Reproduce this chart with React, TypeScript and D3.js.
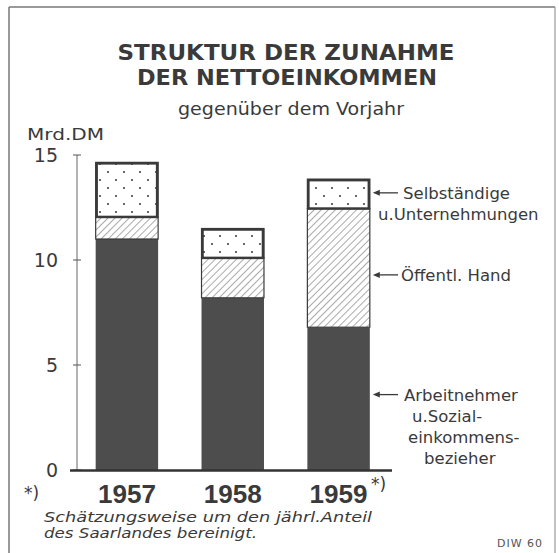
import React from "react";
import * as d3 from "d3";

const years = ["1957", "1958", "1959"];
const arbeitnehmer = [11.0, 8.2, 6.8];
const oeffentlich = [1.05, 1.9, 5.65];
const selbstaendige = [2.6, 1.4, 1.4];
const yTicks = [0, 5, 10, 15];
const titleLines = ["STRUKTUR DER ZUNAHME", "DER NETTOEINKOMMEN"];
const subtitle = "gegenüber dem Vorjahr";
const unitLabel = "Mrd.DM";
const labelSelb = ["Selbständige", "u.Unternehmungen"];
const labelOeff = ["Öffentl. Hand"];
const labelArb = ["Arbeitnehmer", "u.Sozial-", "einkommens-", "bezieher"];
const footnote = ["Schätzungsweise um den jährl.Anteil", "des Saarlandes bereinigt."];

const W = 559;
const H = 553;
const ink = "#3a3a3a";
const font = "'DejaVu Sans', 'Open Sans', sans-serif";

export default function App() {
  const x = d3.scaleBand<string>().domain(years).range([74.5, 391]).paddingInner(0.41).paddingOuter(0.2);
  const y = d3.scaleLinear().domain([0, 15]).range([470, 155]);

  const stackData = years.map((yr, i) => ({ year: yr, a: arbeitnehmer[i], o: oeffentlich[i], s: selbstaendige[i] }));
  const stack = d3.stack<any>().keys(["a", "o", "s"])(stackData);
  const fills: Record<string, string> = { a: "#4d4d4d", o: "url(#hatch)", s: "url(#dots)" };

  const last = stack.map((layer) => layer[2]);
  const mid = (seg: any) => (y(seg[0]) + y(seg[1])) / 2;
  const barRight = (x("1959") || 0) + x.bandwidth();

  return (
    <svg width={W} height={H} style={{ position: "absolute", left: 0, top: 0, background: "#fff" }}>
      <defs>
        <pattern id="hatch" width="5" height="5" patternUnits="userSpaceOnUse" patternTransform="rotate(45)">
          <rect width="5" height="5" fill="#fff" />
          <line x1="0" y1="0" x2="0" y2="5" stroke="#555" strokeWidth="1" />
        </pattern>
        <pattern id="dots" width="16" height="16" patternUnits="userSpaceOnUse">
          <rect width="16" height="16" fill="#fff" />
          <circle cx="4" cy="4" r="1.1" fill="#444" />
          <circle cx="12" cy="12" r="1.1" fill="#444" />
        </pattern>
      </defs>
      {/* frame */}
      <line x1={9} y1={7} x2={555} y2={7} stroke="#777" strokeWidth={1.5} />
      <line x1={9} y1={7} x2={9} y2={H} stroke="#777" strokeWidth={1.5} />
      <line x1={555} y1={7} x2={555} y2={H} stroke="#999" strokeWidth={1.2} />

      {/* title */}
      <g fill={ink} fontFamily={font} fontWeight="bold" textAnchor="middle">
        <text x={286} y={60} fontSize={21} textLength={337} lengthAdjust="spacingAndGlyphs">{titleLines[0]}</text>
        <text x={287} y={85} fontSize={21} textLength={300} lengthAdjust="spacingAndGlyphs">{titleLines[1]}</text>
      </g>
      <text x={291} y={115} fontSize={17} fill={ink} fontFamily={font} textAnchor="middle" textLength={226} lengthAdjust="spacingAndGlyphs">{subtitle}</text>
      <text x={27} y={140} fontSize={16} fill={ink} fontFamily={font} textLength={77} lengthAdjust="spacingAndGlyphs">{unitLabel}</text>

      {/* y axis */}
      <line x1={77} y1={y(15)} x2={77} y2={y(0)} stroke="#666" strokeWidth={1} />
      {yTicks.map((t) => (
        <g key={t}>
          <line x1={73} x2={81} y1={y(t)} y2={y(t)} stroke="#555" strokeWidth={1} />
          <text x={58} y={y(t) + 7} fontSize={19} fill={ink} fontFamily={font} textAnchor="end">{t}</text>
        </g>
      ))}

      {/* bars */}
      {stack.map((layer) => (
        <g key={layer.key}>
          {layer.map((seg, i) => (
            <rect key={i} x={x(years[i])} width={x.bandwidth()} y={y(seg[1])} height={y(seg[0]) - y(seg[1])}
              fill={fills[layer.key]} stroke={ink} strokeWidth={layer.key === "a" ? 0 : 1.2} />
          ))}
        </g>
      ))}
      {stack[2].map((seg, i) => (
        <rect key={"o" + i} x={x(years[i])! + 1} width={x.bandwidth() - 2} y={y(seg[1]) + 1} height={y(seg[0]) - y(seg[1]) - 1}
          fill="none" stroke={ink} strokeWidth={2.5} />
      ))}

      {/* baseline */}
      <line x1={70} x2={392} y1={y(0) + 0.5} y2={y(0) + 0.5} stroke="#333" strokeWidth={2.5} />

      {/* year labels */}
      {years.map((yr) => (
        <text key={yr} x={(x(yr) || 0) + x.bandwidth() / 2} y={503} fontSize={25} fontWeight="bold" fill={ink}
          fontFamily="'Liberation Sans', Arial, sans-serif" textAnchor="middle" textLength={58} lengthAdjust="spacingAndGlyphs">{yr}</text>
      ))}
      <text x={371} y={490} fontSize={17} fill={ink} fontFamily={font}>*)</text>

      {/* right labels with arrows */}
      {[
        { yy: mid(last[2]) - 1, lines: labelSelb, dx: [403, 378] },
        { yy: mid(last[1]) + 7, lines: labelOeff, dx: [401] },
        { yy: mid(last[0]) - 4, lines: labelArb, dx: [404, 412, 408, 424] },
      ].map((lab, k) => (
        <g key={k}>
          <line x1={barRight + 6} x2={398} y1={lab.yy} y2={lab.yy} stroke={ink} strokeWidth={1.3} />
          <path d={`M${barRight + 3},${lab.yy} l7,-3 l0,6 z`} fill={ink} />
          {lab.lines.map((ln, j) => (
            <text key={j} x={lab.dx[j]} y={lab.yy + 6 + j * 21} fontSize={16.5} fill={ink} fontFamily={font}>{ln}</text>
          ))}
        </g>
      ))}

      {/* footnote */}
      <text x={24} y={499} fontSize={17} fill={ink} fontFamily={font}>*)</text>
      <text x={44} y={522} fontSize={14.5} fontStyle="italic" fill={ink} fontFamily={font} textLength={328} lengthAdjust="spacingAndGlyphs">{footnote[0]}</text>
      <text x={44} y={538} fontSize={14.5} fontStyle="italic" fill={ink} fontFamily={font} textLength={213} lengthAdjust="spacingAndGlyphs">{footnote[1]}</text>
      <text x={497} y={547} fontSize={11} fill="#555" fontFamily={font} letterSpacing={1}>DIW 60</text>
    </svg>
  );
}
